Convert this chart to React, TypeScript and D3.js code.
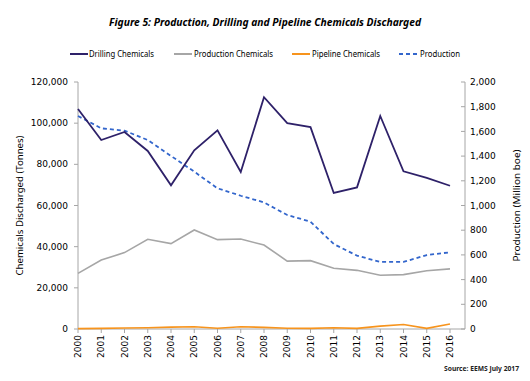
import React from "react";
import * as d3 from "d3";

const years = [2000, 2001, 2002, 2003, 2004, 2005, 2006, 2007, 2008, 2009, 2010, 2011, 2012, 2013, 2014, 2015, 2016];
const drilling = [106900, 91800, 95700, 86500, 69800, 86800, 96500, 76300, 112600, 100000, 98100, 66100, 68800, 103500, 76600, 73400, 69600];
const productionChem = [27000, 33500, 37100, 43600, 41500, 48100, 43400, 43700, 40800, 33000, 33200, 29500, 28500, 26100, 26400, 28300, 29200];
const pipeline = [200, 300, 500, 600, 900, 1100, 400, 1100, 800, 400, 300, 600, 300, 1400, 2200, 300, 2400];
const production = [1725, 1625, 1606, 1530, 1401, 1274, 1139, 1079, 1025, 923, 869, 688, 594, 543, 543, 599, 621];
const leftTicks = [0, 20000, 40000, 60000, 80000, 100000, 120000];
const rightTicks = [0, 200, 400, 600, 800, 1000, 1200, 1400, 1600, 1800, 2000];

const W = 530, H = 381;
const x0 = 78, x1 = 450, xRightAxis = 465;
const yTop = 82, yBot = 329;

export default function App() {
  const x = d3.scaleLinear().domain([2000, 2016]).range([x0, x1]);
  const yL = d3.scaleLinear().domain([0, 120000]).range([yBot, yTop]);
  const yR = d3.scaleLinear().domain([0, 2000]).range([yBot, yTop]);
  const lineL = d3.line<number>().x((_, i) => x(years[i])).y((d) => yL(d));
  const lineR = d3.line<number>().x((_, i) => x(years[i])).y((d) => yR(d));
  const fmt = d3.format(",");
  const axisColor = "#a6a6a6";
  const tickFont = "DejaVu Sans, sans-serif";
  const labFont = "Noto Sans, sans-serif";

  const legend = [
    { label: "Drilling Chemicals", color: "#2e2169", dash: "", lx: 70, tx: 89, tl: 65, w: 2 },
    { label: "Production Chemicals", color: "#a6a6a6", dash: "", lx: 174, tx: 194, tl: 79, w: 2 },
    { label: "Pipeline Chemicals", color: "#f7941d", dash: "", lx: 292, tx: 312, tl: 68, w: 2 },
    { label: "Production", color: "#3366cc", dash: "4,3", lx: 399, tx: 420, tl: 40, w: 2 },
  ];

  return (
    <svg width={W} height={H} style={{ position: "absolute", left: 0, top: 0, background: "#fff" }}>
      <rect width={W} height={H} fill="#fff" />
      <text x={265} y={26} textAnchor="middle" fontFamily={labFont} fontWeight="bold" fontStyle="italic" fontSize={10.5} textLength={312} lengthAdjust="spacingAndGlyphs" fill="#000">
        Figure 5: Production, Drilling and Pipeline Chemicals Discharged
      </text>
      {legend.map((l) => (
        <g key={l.label}>
          <line x1={l.lx} x2={l.lx + 18} y1={54} y2={54} stroke={l.color} strokeWidth={l.w} strokeDasharray={l.dash} />
          <text x={l.tx} y={57} fontFamily={labFont} fontSize={9} textLength={l.tl} lengthAdjust="spacingAndGlyphs" fill="#000">{l.label}</text>
        </g>
      ))}
      {/* axes */}
      <line x1={x0} x2={x0} y1={yTop} y2={yBot} stroke={axisColor} />
      <line x1={xRightAxis} x2={xRightAxis} y1={yTop} y2={yBot} stroke={axisColor} />
      <line x1={x0} x2={xRightAxis} y1={yBot} y2={yBot} stroke={axisColor} />
      {leftTicks.map((t) => (
        <g key={"l" + t}>
          <line x1={x0 - 4} x2={x0} y1={yL(t)} y2={yL(t)} stroke={axisColor} />
          <text x={68} y={yL(t)} dy="0.35em" textAnchor="end" fontFamily={tickFont} fontSize={9} fill="#000">{fmt(t)}</text>
        </g>
      ))}
      {rightTicks.map((t) => (
        <g key={"r" + t}>
          <line x1={xRightAxis - 4} x2={xRightAxis} y1={yR(t)} y2={yR(t)} stroke={axisColor} />
          <text x={470} y={yR(t)} dy="0.35em" textAnchor="start" fontFamily={tickFont} fontSize={9} fill="#000">{fmt(t)}</text>
        </g>
      ))}
      {years.map((yr) => (
        <g key={"x" + yr}>
          <line x1={x(yr)} x2={x(yr)} y1={yBot} y2={yBot + 4} stroke={axisColor} />
          <text transform={`translate(${x(yr)},${yBot + 6}) rotate(-90)`} textAnchor="end" dy="0.35em" fontFamily={tickFont} fontSize={9} fill="#000">{yr}</text>
        </g>
      ))}
      <text transform={`translate(20,${(yTop + yBot) / 2}) rotate(-90)`} textAnchor="middle" dy="0.35em" fontFamily={labFont} fontSize={9.5} fill="#000" textLength={140} lengthAdjust="spacingAndGlyphs">Chemicals Discharged (Tonnes)</text>
      <text transform={`translate(517,${(yTop + yBot) / 2}) rotate(-90)`} textAnchor="middle" dy="0.35em" fontFamily={labFont} fontSize={9.5} fill="#000" textLength={112} lengthAdjust="spacingAndGlyphs">Production (Million boe)</text>
      {/* series */}
      <path d={lineL(productionChem) || ""} fill="none" stroke="#a6a6a6" strokeWidth={1.6} />
      <path d={lineL(pipeline) || ""} fill="none" stroke="#f7941d" strokeWidth={1.6} />
      <path d={lineR(production) || ""} fill="none" stroke="#3366cc" strokeWidth={1.8} strokeDasharray="4,3" />
      <path d={lineL(drilling) || ""} fill="none" stroke="#2e2169" strokeWidth={1.8} />
      <text x={519} y={371} textAnchor="end" fontFamily={labFont} fontSize={7.5} fontWeight="bold" fill="#222" textLength={75} lengthAdjust="spacingAndGlyphs">Source: EEMS July 2017</text>
    </svg>
  );
}
